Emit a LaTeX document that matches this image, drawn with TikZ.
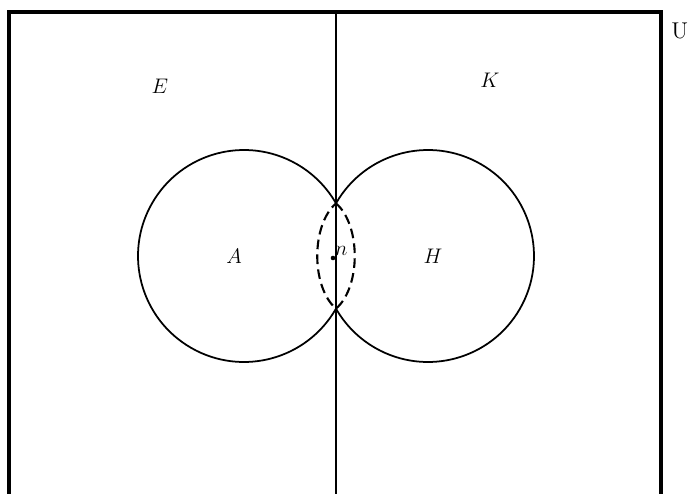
\documentclass[tikz,border=0pt]{standalone}
\usepackage{amsmath,amssymb}
\usepackage{xcolor}
\definecolor{ink}{HTML}{000000}
\usetikzlibrary{calc,positioning}

\begin{document}
\begin{tikzpicture}[x=0.02cm, y=-0.02cm]
    % Parameters
    \def\midX{336}   % dividing line
    \def\cY{256}     % centre height of both sets
    \def\dX{92}      % offset of each centre from the dividing line
    \def\rad{106}    % radius of the sets
    \pgfmathsetmacro{\phi}{acos(\dX/\rad)}
    \pgfmathsetmacro{\hY}{\rad*sin(\phi)}

    \tikzset{
        frame/.style={line width=2.2pt, ink},
        divider/.style={line width=1.6pt, ink},
        setline/.style={line width=1.0pt, ink},
        lensline/.style={line width=1.2pt, ink, dash pattern=on 5.5pt off 3pt},
        setlabel/.style={font=\fontsize{13}{15}\selectfont, inner sep=0pt}
    }

    \useasboundingbox (0,0) rectangle (691,494);

    % Universe (open at the bottom) and dividing line
    \coordinate (UL) at (9,494);
    \coordinate (UR) at (661,494);
    \draw[frame] (UL) -- (9,12) -- (661,12) -- (UR);
    \node[setlabel, anchor=west] (U) at (671,31) {U};
    \coordinate (divTop) at (\midX,12);
    \coordinate (divBot) at (\midX,494);
    \draw[divider] (divTop) -- (divBot);

    % Crossing points of the two sets
    \coordinate (cA) at ({\midX-\dX},\cY);
    \coordinate (cH) at ({\midX+\dX},\cY);
    \coordinate (iTop) at (\midX,{\cY-\hY});
    \coordinate (iBot) at (\midX,{\cY+\hY});

    % Set A (left) and set H (right), outer parts solid
    \draw[setline] (iBot) arc[start angle=\phi, end angle={360-\phi}, radius=\rad];
    \draw[setline] (iTop) arc[start angle={180+\phi}, end angle={540-\phi}, radius=\rad];

    % Common part, dashed
    \draw[lensline] (iTop) .. controls (361,225) and (361,287) .. (iBot)
        .. controls (311,287) and (311,225) .. (iTop);

    % Element n
    \fill[ink] (333,258) coordinate (nDot) circle (2.3);
    \node[setlabel, above right=1pt and 1pt] (n) at (nDot) {$n$};

    % Labels
    \node[setlabel] (E) at (160,86) {$E$};
    \node[setlabel] (K) at (490,80) {$K$};
    \node[setlabel] (A) at (234,256) {$A$};
    \node[setlabel] (H) at (433,256) {$H$};
\end{tikzpicture}
\end{document}
